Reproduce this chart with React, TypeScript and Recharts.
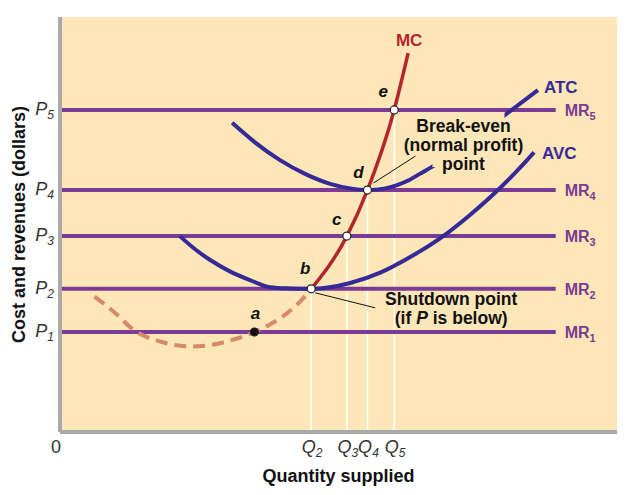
import React from 'react';
import { ComposedChart, Line, Scatter, XAxis, YAxis, CartesianGrid } from 'recharts';

// price levels P1..P5 and quantities Q2..Q5 on a 0-100 scale
const priceLevels = [24.1, 34.5, 47.2, 58.3, 77.6];
const priceSubs = ['1', '2', '3', '4', '5'];
const quantityLevels = [45.1, 51.5, 55.2, 60.0];
const quantitySubs = ['2', '3', '4', '5'];
const mrEndQ = 89;

// marginal cost below the shutdown point (dashed) and above it (solid)
const mcLowQ = [6.2, 9.9, 13.2, 18.0, 23.9, 29.9, 34.9, 39.5, 43.1, 45.1];
const mcLowP = [32.6, 28.7, 24.6, 21.8, 20.6, 21.8, 24.1, 27.4, 31.4, 34.5];
const mcQ = [45.1, 51.5, 55.2, 60.0, 62.5];
const mcP = [34.5, 47.2, 58.3, 77.6, 91.3];

const atcQ = [30.9, 35.0, 39.5, 44.0, 48.5, 52.1, 55.2, 58.4, 60.5, 62.8, 64.6, 67.7, 73.6, 79.4, 85.8];
const atcP = [74.5, 69.8, 65.5, 62.2, 59.8, 58.7, 58.3, 58.7, 59.5, 60.8, 62.2, 64.6, 70.1, 75.9, 82.4];

const avcQ = [21.5, 24.2, 26.9, 30.5, 34.1, 37.7, 41.3, 45.1, 52.1, 57.5, 62.8, 68.8, 73.6, 79.0, 82.6, 85.1];
const avcP = [47.2, 44.1, 41.5, 38.7, 36.6, 34.9, 34.6, 34.5, 35.9, 38.4, 42.1, 47.2, 52.3, 58.8, 63.7, 67.4];

const pointNames = ['a', 'b', 'c', 'd', 'e'];
const pointQ = [34.9, 45.1, 51.5, 55.2, 60.0];
const pointP = [24.1, 34.5, 47.2, 58.3, 77.6];

const BG = '#FDE7B9';
const AXIS = '#A9A9A9';
const MR_COLOR = '#7B3A93';
const MC_COLOR = '#B3262B';
const MC_DASH = '#D7896B';
const COST = '#352A98';
const INK = '#111';
const FONT = "'Liberation Sans', Arial, Helvetica, sans-serif";

const zip = (qs: number[], ps: number[]) => qs.map((q, i) => ({ q, p: ps[i] }));

const mcLowData = zip(mcLowQ, mcLowP);
const mcData = zip(mcQ, mcP);
const atcData = zip(atcQ, atcP);
const avcData = zip(avcQ, avcP);
const pointData = pointNames.map((name, i) => ({ name, q: pointQ[i], p: pointP[i] }));
const mrLabelData = priceLevels.map((p, i) => ({ q: mrEndQ, p, sub: priceSubs[i] }));
// white guides from b..e down to the quantity axis
const guideData = quantityLevels.map((q, i) => [{ q, p: 0 }, { q, p: priceLevels[i + 1] }]);

// pixel offsets of the letter labels from their points
const letterOffset: Record<string, [number, number]> = {
  a: [1, -13],
  b: [-6, -15],
  c: [-10, -11],
  d: [-9, -12],
  e: [-11, -13],
};

const QTick = (props: any) => {
  const { x, y, payload } = props;
  const i = quantityLevels.indexOf(payload.value);
  if (i < 0) {
    return (
      <text x={x - 4} y={y + 21} textAnchor="middle" fontSize={18} fill="#333" fontFamily={FONT}>
        0
      </text>
    );
  }
  return (
    <text x={x + 1} y={y + 21} textAnchor="middle" fontSize={18} fontStyle="italic" fill="#333" fontFamily={FONT}>
      <tspan>Q</tspan>
      <tspan fontSize={12} dy={4}>{quantitySubs[i]}</tspan>
    </text>
  );
};

const PTick = (props: any) => {
  const { x, y, payload } = props;
  const i = priceLevels.indexOf(payload.value);
  return (
    <text x={x - 6} y={y + 5} textAnchor="end" fontSize={18} fontStyle="italic" fill="#333" fontFamily={FONT}>
      <tspan>P</tspan>
      <tspan fontSize={12} dy={4}>{priceSubs[i]}</tspan>
    </text>
  );
};

const XTitle = (props: any) => {
  const vb = props.viewBox;
  return (
    <text x={vb.x + vb.width / 2} y={vb.y + 50} textAnchor="middle" fontSize={18} fontWeight="bold" fill={INK} fontFamily={FONT}>
      Quantity supplied
    </text>
  );
};

const YTitle = (props: any) => {
  const vb = props.viewBox;
  const cx = 25;
  const cy = vb.y + vb.height / 2;
  return (
    <text x={cx} y={cy} transform={`rotate(-90, ${cx}, ${cy})`} textAnchor="middle" fontSize={18} fontWeight="bold" fill={INK} fontFamily={FONT}>
      Cost and revenues (dollars)
    </text>
  );
};

const PointShape = (props: any) => {
  const { cx, cy, payload } = props;
  const [dx, dy] = letterOffset[payload.name];
  return (
    <g>
      <circle cx={cx} cy={cy} r={4} fill={payload.name === 'a' ? INK : '#fff'} stroke="#222" strokeWidth={1.2} />
      <text x={cx + dx} y={cy + dy} textAnchor="middle" fontSize={17} fontWeight="bold" fontStyle="italic" fill={INK} fontFamily={FONT}>
        {payload.name}
      </text>
    </g>
  );
};

const MrLabel = (props: any) => {
  const { cx, cy, payload } = props;
  return (
    <text x={cx + 9} y={cy + 6} fontSize={16} fontWeight="bold" fill={MR_COLOR} fontFamily={FONT}>
      <tspan>MR</tspan>
      <tspan fontSize={11} dy={4}>{payload.sub}</tspan>
    </text>
  );
};

const CurveLabel = (props: any) => {
  const { cx, cy, payload } = props;
  return (
    <text x={cx + payload.dx} y={cy + payload.dy} textAnchor={payload.anchor} fontSize={17} fontWeight="bold" fill={payload.color} fontFamily={FONT}>
      {payload.text}
    </text>
  );
};

const Annotation = (props: any) => {
  const { cx, cy, payload } = props;
  if (payload.kind === 'breakeven') {
    return (
      <g fontFamily={FONT} fontSize={17.5} fontWeight="bold" fill={INK}>
        <rect x={cx + 65} y={cy - 77} width={72} height={54} fill={BG} />
        <line x1={cx + 6} y1={cy - 7} x2={cx + 48} y2={cy - 34} stroke={INK} strokeWidth={1} />
        <text x={cx + 96} y={cy - 58} textAnchor="middle">Break-even</text>
        <text x={cx + 96} y={cy - 39} textAnchor="middle">(normal profit)</text>
        <text x={cx + 96} y={cy - 20} textAnchor="middle">point</text>
      </g>
    );
  }
  return (
    <g fontFamily={FONT} fontSize={17.5} fontWeight="bold" fill={INK}>
      <line x1={cx + 4} y1={cy + 4} x2={cx + 64} y2={cy + 19} stroke={INK} strokeWidth={1} />
      <text x={cx + 140} y={cy + 16} textAnchor="middle">Shutdown point</text>
      <text x={cx + 140} y={cy + 35} textAnchor="middle">
        (if <tspan fontStyle="italic">P</tspan> is below)
      </text>
    </g>
  );
};

const curveLabels = [
  { q: mcQ[mcQ.length - 1], p: mcP[mcP.length - 1], text: 'MC', color: MC_COLOR, dx: 1, dy: -7, anchor: 'middle' },
  { q: atcQ[atcQ.length - 1], p: atcP[atcP.length - 1], text: 'ATC', color: COST, dx: 6, dy: 3, anchor: 'start' },
  { q: avcQ[avcQ.length - 1], p: avcP[avcP.length - 1], text: 'AVC', color: COST, dx: 8, dy: 7, anchor: 'start' },
];

const annotations = [
  { q: pointQ[3], p: pointP[3], kind: 'breakeven' },
  { q: pointQ[1], p: pointP[1], kind: 'shutdown' },
];

export default function App() {
  return (
    <div style={{ position: 'absolute', left: 0, top: 0 }}>
      <ComposedChart width={629} height={495} margin={{ top: 17, right: 12, bottom: 0, left: 0 }} style={{ fontFamily: FONT }}>
        <CartesianGrid fill={BG} horizontal={false} vertical={false} />
        <XAxis
          type="number"
          dataKey="q"
          domain={[0, 100]}
          ticks={[0, ...quantityLevels]}
          interval={0}
          height={63}
          tickSize={0}
          tickMargin={0}
          tickLine={false}
          axisLine={{ stroke: AXIS, strokeWidth: 4 }}
          tick={QTick}
          label={{ content: XTitle }}
        />
        <YAxis
          type="number"
          dataKey="p"
          domain={[0, 100]}
          ticks={priceLevels}
          interval={0}
          width={60}
          tickSize={0}
          tickMargin={0}
          tickLine={false}
          axisLine={{ stroke: AXIS, strokeWidth: 4 }}
          tick={PTick}
          label={{ content: YTitle }}
        />
        {guideData.map((d, i) => (
          <Line key={`g${i}`} data={d} dataKey="p" type="linear" stroke="#fff" strokeWidth={1.5} dot={false} activeDot={false} isAnimationActive={false} />
        ))}
        {priceLevels.map((p, i) => (
          <Line
            key={`mr${i}`}
            data={[{ q: 0, p }, { q: mrEndQ, p }]}
            dataKey="p"
            type="linear"
            stroke={MR_COLOR}
            strokeWidth={4}
            dot={false}
            activeDot={false}
            isAnimationActive={false}
          />
        ))}
        <Line data={atcData} dataKey="p" type="monotone" stroke={COST} strokeWidth={4} dot={false} activeDot={false} isAnimationActive={false} />
        <Line data={avcData} dataKey="p" type="monotone" stroke={COST} strokeWidth={4} dot={false} activeDot={false} isAnimationActive={false} />
        <Line data={mcLowData} dataKey="p" type="monotone" stroke={MC_DASH} strokeWidth={4} strokeDasharray="12 7" dot={false} activeDot={false} isAnimationActive={false} />
        <Line data={mcData} dataKey="p" type="monotone" stroke={MC_COLOR} strokeWidth={3.5} dot={false} activeDot={false} isAnimationActive={false} />
        <Scatter data={annotations} dataKey="p" shape={Annotation} isAnimationActive={false} />
        <Scatter data={pointData} dataKey="p" shape={PointShape} isAnimationActive={false} />
        <Scatter data={mrLabelData} dataKey="p" shape={MrLabel} isAnimationActive={false} />
        <Scatter data={curveLabels} dataKey="p" shape={CurveLabel} isAnimationActive={false} />
      </ComposedChart>
    </div>
  );
}
